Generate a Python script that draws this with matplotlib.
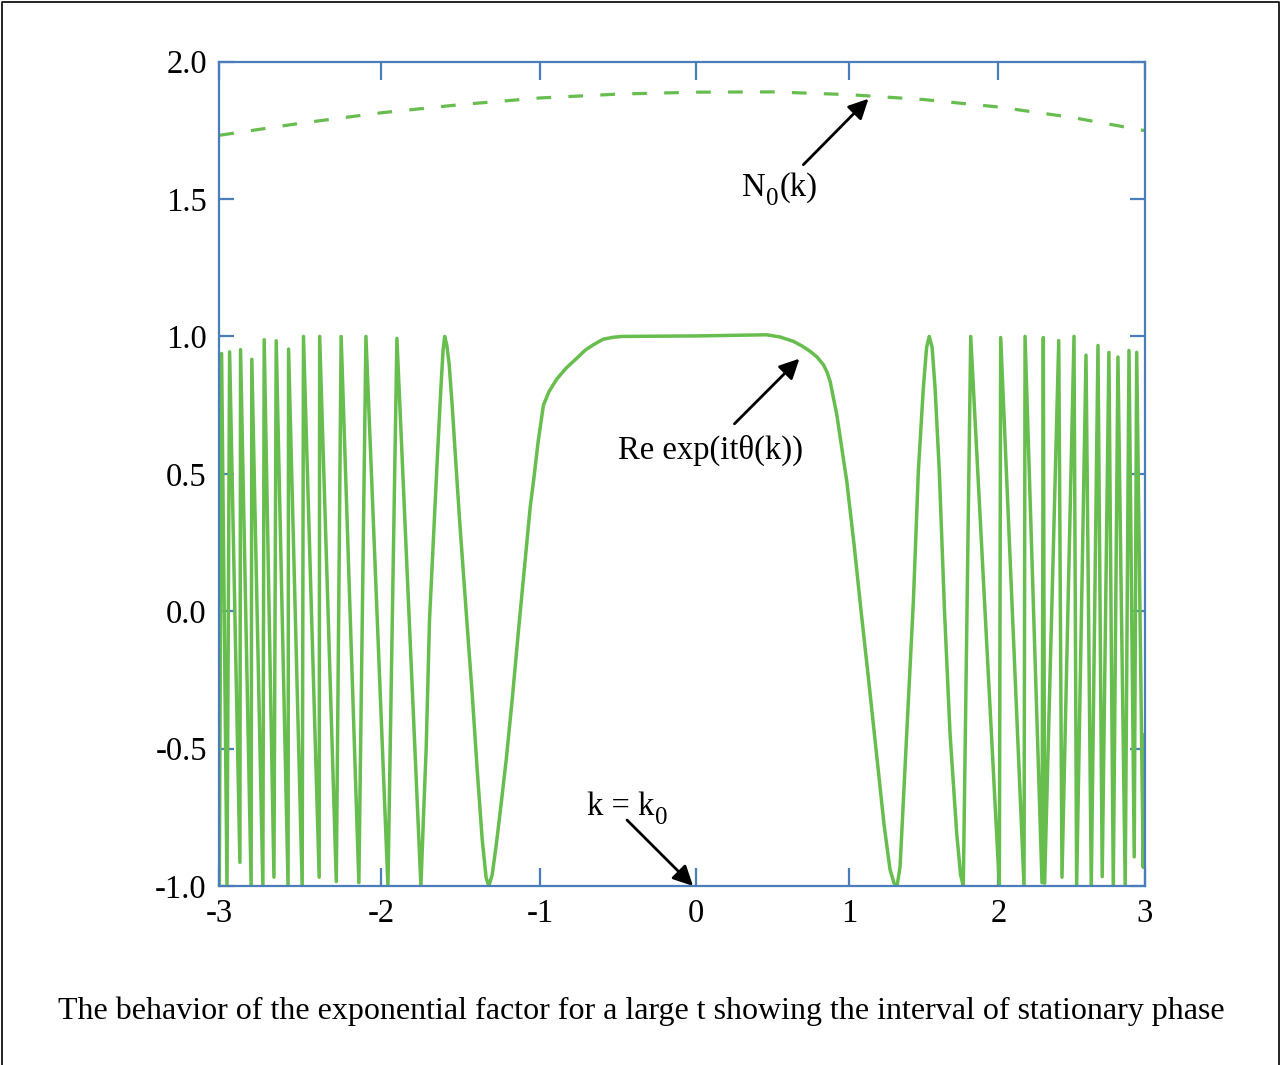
import numpy as np
import matplotlib
matplotlib.use("Agg")
import matplotlib.pyplot as plt
from matplotlib.lines import Line2D

plt.rcParams['font.family'] = ['Liberation Serif', 'DejaVu Serif']
plt.rcParams['axes.unicode_minus'] = False

# ---------------- data ----------------
# Re exp(i t theta(k)) : vertices of the plotted polyline (k, value)
k_re = [-3.0, -2.986, -2.953, -2.937, -2.874, -2.870, -2.805, -2.801, -2.733, -2.725,
        -2.665, -2.651, -2.578, -2.575, -2.491, -2.483, -2.386, -2.383, -2.280, -2.250,
        -2.140, -2.096, -1.959, -1.903, -1.753,
        -1.737, -1.720, -1.699, -1.674, -1.649, -1.628, -1.614, -1.604, -1.591, -1.576,
        -1.557, -1.535, -1.510, -1.484, -1.459, -1.431, -1.399, -1.368, -1.343, -1.326,
        -1.305, -1.279, -1.248, -1.216, -1.178, -1.140, -1.102, -1.064, -1.043, -1.013,
        -0.980, -0.944, -0.895, -0.835, -0.767, -0.714, -0.661, -0.599, -0.533, -0.477,
        0.026, 0.460, 0.547, 0.635, 0.692, 0.744, 0.790, 0.832, 0.856, 0.876,
        0.920, 0.986, 1.035, 1.081, 1.127, 1.188, 1.234, 1.273, 1.300, 1.320,
        1.340, 1.362, 1.395, 1.429, 1.462, 1.495, 1.517, 1.535, 1.554, 1.574,
        1.602, 1.637, 1.674, 1.719, 1.745, 1.763,
        1.813, 2.006, 2.015, 2.173, 2.180, 2.295, 2.304, 2.313, 2.409, 2.431,
        2.513, 2.531, 2.595, 2.631, 2.677, 2.706, 2.752, 2.782, 2.814, 2.864,
        2.890, 2.926, 2.943, 2.988, 3.0]
re_val = [-1.0, 0.938, -1.0, 0.944, -0.914, 0.952, -1.0, 0.917, -1.0, 0.988,
          -0.968, 0.984, -1.0, 0.954, -1.0, 1.0, -0.968, 1.0, -0.984, 1.0,
          -0.988, 1.0, -1.0, 0.993, -1.0,
          -0.75, -0.5, -0.03, 0.27, 0.57, 0.81, 0.95, 1.0, 0.97, 0.9,
          0.75, 0.55, 0.33, 0.12, -0.08, -0.3, -0.58, -0.83, -0.97, -1.0,
          -0.96, -0.85, -0.7, -0.54, -0.32, -0.08, 0.15, 0.38, 0.474, 0.62,
          0.75, 0.8, 0.845, 0.885, 0.921, 0.95, 0.97, 0.99, 0.997, 1.0,
          1.002, 1.006, 0.998, 0.982, 0.965, 0.946, 0.925, 0.897, 0.87, 0.837,
          0.716, 0.474, 0.24, 0.0, -0.23, -0.543, -0.78, -0.94, -0.99, -1.0,
          -0.93, -0.69, -0.33, 0.04, 0.51, 0.81, 0.96, 1.0, 0.96, 0.81,
          0.51, 0.0, -0.445, -0.81, -0.96, -1.0,
          1.0, -1.0, 0.996, -1.0, 1.0, -0.988, 0.996, -0.99, 0.985, -0.968,
          1.0, -1.0, 0.932, -1.0, 0.967, -0.966, 0.942, -1.0, 0.925, -1.0,
          0.949, -0.894, 0.942, -0.932, -0.45]

# N0(k) dashed curve
k_n0 = [-3.0, -2.5, -2.0, -1.5, -1.0, -0.5, 0.0, 0.5, 1.0, 1.5, 2.0, 2.5, 3.0]
n0_val = [1.732, 1.776, 1.814, 1.844, 1.868, 1.882, 1.889, 1.890, 1.880, 1.862, 1.835, 1.797, 1.749]

x_ticks = [-3, -2, -1, 0, 1, 2, 3]
x_ticklabels = ['-3', '-2', '-1', '0', '1', '2', '3']
y_ticks = [-1.0, -0.5, 0.0, 0.5, 1.0, 1.5, 2.0]
y_ticklabels = ['-1.0', '-0.5', '0.0', '0.5', '1.0', '1.5', '2.0']

caption = "The behavior of the exponential factor for a large t showing the interval of stationary phase"

# ---------------- style ----------------
GREEN = '#67BD4E'
BLUE = '#4A7EBB'
FS = 23.5
SUB_FS = 18

fig = plt.figure(figsize=(12.81, 10.65), dpi=100)
ax = fig.add_axes([0.1712, 0.1681, 0.7226, 0.7740])

c = 0.010082
def fwd(x):
    x = np.clip(np.asarray(x, dtype=float), -40, 40)
    return x - c * x * x
def inv(y):
    y = np.clip(np.asarray(y, dtype=float), -56, 24)
    return (1 - np.sqrt(1 - 4 * c * y)) / (2 * c)

ax.set_xscale('function', functions=(fwd, inv))

ax.plot(k_re, re_val, color=GREEN, lw=2.5, solid_joinstyle='round', zorder=2)
ax.plot(k_n0, n0_val, color=GREEN, lw=2.3, linestyle=(0, (4.6, 5.4)), zorder=2)

ax.set_xlim(-3, 3)
ax.set_ylim(-1, 2)
ax.set_xticks(x_ticks)
ax.set_xticklabels(x_ticklabels)
ax.set_yticks(y_ticks)
ax.set_yticklabels(y_ticklabels)
ax.minorticks_off()

for s in ax.spines.values():
    s.set_color(BLUE)
    s.set_linewidth(1.6)
    s.set_zorder(3)
ax.tick_params(axis='x', direction='in', length=13, width=1.6, color=BLUE,
               top=True, bottom=True, labelsize=FS, pad=9)
ax.tick_params(axis='y', direction='in', length=11, width=1.6, color=BLUE,
               left=True, right=True, labelsize=FS, pad=9)

arrow = dict(arrowstyle='-|>', color='black', lw=2, mutation_scale=30,
             shrinkA=0, shrinkB=0)
ax.annotate('', xy=(1.13, 1.865), xytext=(0.700, 1.625), arrowprops=arrow)
ax.annotate('', xy=(0.674, 0.919), xytext=(0.249, 0.682), arrowprops=arrow)
ax.annotate('', xy=(-0.02, -1.0), xytext=(-0.446, -0.760), arrowprops=arrow,
            annotation_clip=False)

ax.text(0.091, 0.586, 'Re exp(itθ(k))', fontsize=FS, ha='center', va='center')

# labels with real (larger) subscripts, built piece by piece
renderer = fig.canvas.get_renderer()
W, H = fig.bbox.width, fig.bbox.height
def label_with_sub(xd, yd, pieces):
    x0, y0 = ax.transData.transform((xd, yd))
    for txt, size, dy in pieces:
        t = fig.text(x0 / W, (y0 - dy) / H, txt, fontsize=size, ha='left', va='baseline')
        bb = t.get_window_extent(renderer)
        x0 = bb.x1 + 0.5

label_with_sub(0.299, 1.512, [('N', FS, 0), ('0', SUB_FS, 9), ('(k)', FS, 0)])
label_with_sub(-0.701, -0.742, [('k = k', FS, 0), ('0', SUB_FS, 9)])

fig.text(0.5005, 1 - 1011 / 1065, caption, fontsize=23, ha='center', va='center')

# figure frame (left, top, right)
fig.add_artist(Line2D([0.0018, 0.0018, 0.9982, 0.9982], [0.0, 0.9979, 0.9979, 0.0],
                      transform=fig.transFigure, color='black', lw=1.2))

fig.savefig('out.png', dpi=100)
